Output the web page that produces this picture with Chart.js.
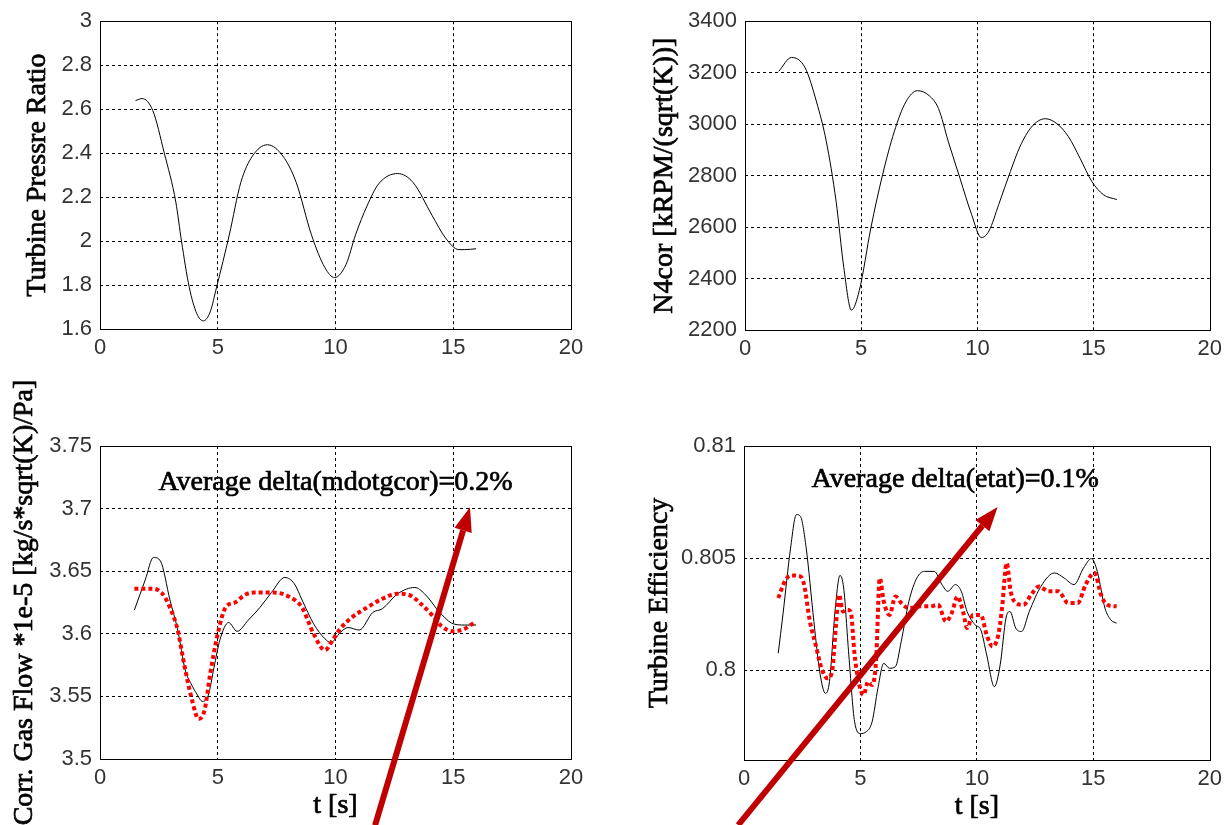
<!DOCTYPE html>
<html><head><meta charset="utf-8">
<script src="https://cdn.jsdelivr.net/npm/chart.js@4/dist/chart.umd.min.js"></script>
<style>
html,body{margin:0;padding:0;background:#fff;}
#wrap{position:relative;width:1228px;height:825px;overflow:hidden;background:#fff;}
canvas{position:absolute;left:0;top:0;}
</style></head><body>
<div id="wrap">
<canvas id="c1" width="1228" height="825"></canvas>
<canvas id="c2" width="1228" height="825"></canvas>
<canvas id="c3" width="1228" height="825"></canvas>
<canvas id="c4" width="1228" height="825"></canvas>
</div>
<script>
// ---- tick labels ----
const xTicks = [0, 5, 10, 15, 20];
const prTicks = [1.6, 1.8, 2, 2.2, 2.4, 2.6, 2.8, 3];
const nTicks = [2200, 2400, 2600, 2800, 3000, 3200, 3400];
const flowTicks = [3.5, 3.55, 3.6, 3.65, 3.7, 3.75];
const effTicks = [0.8, 0.805, 0.81];

// ---- Turbine pressure ratio ----
const prTime = [1.51,1.79,2.24,2.73,3.22,3.46,3.79,4.11,4.39,4.68,4.95,5.49,5.98,6.47,7.11,7.77,8.33,8.98,9.55,9.96,10.45,10.85,11.34,11.83,12.64,13.29,14.1,14.67,15.24,15.48,15.97];
const prValue = [2.639,2.648,2.594,2.40,2.177,2.0,1.79,1.67,1.637,1.678,1.79,2.028,2.267,2.386,2.438,2.386,2.267,2.028,1.879,1.834,1.894,2.028,2.16,2.26,2.307,2.267,2.117,2.014,1.961,1.961,1.965];

// ---- N4cor ----
const nTime = [1.45,2.0,2.58,3.08,3.5,3.92,4.25,4.58,4.92,5.42,5.92,6.42,6.92,7.42,7.92,8.33,8.75,9.25,9.75,10.17,10.5,10.92,11.42,11.83,12.33,12.92,13.42,13.92,14.42,14.92,15.42,16.0];
const nValue = [3205,3259,3220,3086,2932,2700,2444,2277,2354,2598,2803,2970,3086,3130,3111,3060,2932,2790,2649,2559,2585,2688,2816,2912,2989,3021,3002,2951,2867,2778,2726,2707];

// ---- Corrected gas flow (model black, measured red) ----
const flowTime = [1.46,1.92,2.27,2.57,2.97,3.3,3.62,3.87,4.11,4.35,4.6,4.84,5.09,5.46,5.82,6.3,6.79,7.28,7.85,8.25,8.58,9.07,9.55,9.8,10.2,10.53,11.01,11.58,11.99,12.64,13.37,13.78,14.43,15.0,15.48,15.97];
const flowModel = [3.619,3.643,3.661,3.658,3.627,3.603,3.571,3.560,3.552,3.546,3.551,3.573,3.595,3.609,3.602,3.611,3.621,3.633,3.645,3.64,3.627,3.608,3.596,3.593,3.601,3.605,3.603,3.617,3.62,3.632,3.637,3.632,3.617,3.608,3.607,3.607];
const flowTimeR = [1.46,2.24,2.65,2.97,3.3,3.54,3.87,4.19,4.44,4.68,5.0,5.33,5.73,6.14,6.55,7.36,8.09,8.58,9.07,9.55,9.88,10.2,10.69,11.34,11.99,12.64,13.13,13.62,14.1,14.51,15.0,15.48,15.89];
const flowMeas = [3.636,3.636,3.632,3.621,3.603,3.579,3.55,3.532,3.539,3.568,3.6,3.621,3.625,3.631,3.633,3.633,3.629,3.621,3.6,3.587,3.595,3.604,3.613,3.621,3.628,3.632,3.631,3.624,3.615,3.606,3.602,3.604,3.609];

// ---- Turbine efficiency (model black, measured red) ----
const effTime = [1.47,1.67,2.0,2.25,2.42,2.67,3.0,3.25,3.5,3.67,3.92,4.12,4.28,4.5,4.75,5.0,5.25,5.5,5.75,6.0,6.25,6.5,6.75,7.08,7.42,7.75,8.17,8.5,8.75,9.08,9.33,9.58,9.92,10.17,10.42,10.75,11.0,11.25,11.42,11.67,11.92,12.25,12.75,13.33,13.75,14.17,14.58,14.92,15.17,15.5,15.75,16.0];
const effModel = [0.80076,0.80247,0.80545,0.80694,0.80687,0.80545,0.80218,0.79994,0.79897,0.7995,0.80277,0.80423,0.80367,0.80069,0.7977,0.79718,0.79726,0.7977,0.7992,0.80031,0.80009,0.80016,0.80128,0.80307,0.80411,0.80441,0.80441,0.80382,0.80352,0.80382,0.80352,0.80262,0.80203,0.8018,0.80069,0.79927,0.80024,0.80233,0.80262,0.80188,0.80173,0.80262,0.80374,0.80434,0.80411,0.80382,0.80456,0.80498,0.80441,0.80277,0.80225,0.8021];
const effTimeR = [1.47,1.75,2.0,2.42,2.58,2.83,3.08,3.33,3.58,3.78,3.95,4.08,4.25,4.42,4.58,4.75,4.92,5.13,5.33,5.5,5.67,5.83,6.0,6.25,6.5,6.75,7.08,7.58,8.0,8.33,8.67,8.92,9.17,9.42,9.58,9.83,10.17,10.42,10.67,10.92,11.08,11.28,11.45,11.67,12.0,12.33,12.67,13.08,13.5,13.92,14.33,14.67,15.05,15.33,15.58,16.0];
const effMeas = [0.80322,0.80396,0.80423,0.80419,0.80382,0.80218,0.80113,0.80009,0.79964,0.79994,0.80203,0.80337,0.80262,0.8027,0.80262,0.80069,0.79949,0.7989,0.79949,0.79934,0.80039,0.80411,0.80307,0.80247,0.80329,0.803,0.80277,0.80285,0.80285,0.80292,0.80218,0.80255,0.80329,0.80255,0.80188,0.80247,0.80247,0.80158,0.80106,0.80158,0.80277,0.80478,0.80352,0.803,0.80292,0.80337,0.80374,0.80352,0.80352,0.803,0.803,0.80382,0.80434,0.80337,0.80292,0.80285];

const TICK_FONT = {family: '"Liberation Sans", Arial, sans-serif', size: 22};
const SERIF = '28px "Liberation Serif", "Times New Roman", serif';

function serifText(ctx, text, x, y, rot) {
  ctx.save();
  ctx.translate(x, y);
  if (rot) ctx.rotate(rot);
  ctx.font = SERIF;
  ctx.fillStyle = '#000';
  ctx.strokeStyle = '#000';
  ctx.lineWidth = 0.7;
  ctx.setLineDash([]);
  ctx.textAlign = 'center';
  ctx.textBaseline = 'middle';
  ctx.fillText(text, 0, 0);
  ctx.strokeText(text, 0, 0);
  ctx.restore();
}

function decorations(o) {
  return {
    id: 'decor',
    afterDraw(chart) {
      const ctx = chart.ctx, a = chart.chartArea;
      ctx.save();
      ctx.strokeStyle = '#000';
      ctx.lineWidth = 1;
      ctx.setLineDash([]);
      ctx.strokeRect(Math.round(a.left) + 0.5, Math.round(a.top) + 0.5, Math.round(a.right - a.left), Math.round(a.bottom - a.top));
      ctx.restore();
      // axis titles
      serifText(ctx, o.yTitle, o.yTitleX, (a.top + a.bottom) / 2, -Math.PI / 2);
      if (o.xTitle) serifText(ctx, o.xTitle, (a.left + a.right) / 2, a.bottom + 47, 0);
      const note = o.note;
      if (note) {
        const xs = chart.scales.x, ys = chart.scales.y;
        serifText(ctx, note.text, xs.getPixelForValue(note.x), ys.getPixelForValue(note.y), 0);
        const x1 = xs.getPixelForValue(note.arrow[0]), y1 = ys.getPixelForValue(note.arrow[1]);
        const x2 = xs.getPixelForValue(note.arrow[2]), y2 = ys.getPixelForValue(note.arrow[3]);
        const ang = Math.atan2(y2 - y1, x2 - x1);
        const headLen = 24, headHalf = 9;
        const bx = x2 - headLen * Math.cos(ang), by = y2 - headLen * Math.sin(ang);
        ctx.save();
        ctx.strokeStyle = '#c00000';
        ctx.fillStyle = '#c00000';
        ctx.lineWidth = 6;
        ctx.beginPath();
        ctx.moveTo(x1, y1);
        ctx.lineTo(bx, by);
        ctx.stroke();
        ctx.beginPath();
        ctx.moveTo(x2, y2);
        ctx.lineTo(bx + headHalf * Math.sin(ang), by - headHalf * Math.cos(ang));
        ctx.lineTo(bx - headHalf * Math.sin(ang), by + headHalf * Math.cos(ang));
        ctx.closePath();
        ctx.fill();
        ctx.restore();
      }
    }
  };
}

function makeChart(id, o) {
  const datasets = o.series.map(s => ({
    data: s.t.map((t, i) => ({x: t, y: s.v[i]})),
    borderColor: s.color,
    borderWidth: s.width,
    borderDash: s.dash || [],
    pointRadius: 0,
    fill: false,
    cubicInterpolationMode: 'monotone'
  }));
  const inner = (lo, hi) => ({
    color: c => (c.tick && (c.tick.value === lo || c.tick.value === hi)) ? 'rgba(0,0,0,0)' : '#000',
    lineWidth: 1, drawTicks: false
  });
  return new Chart(document.getElementById(id), {
    type: 'line',
    data: {datasets},
    options: {
      responsive: false,
      animation: false,
      events: [],
      layout: {padding: o.pad},
      plugins: {legend: {display: false}, tooltip: {enabled: false}, title: {display: false}},
      scales: {
        x: {
          type: 'linear', min: 0, max: 20,
          afterBuildTicks: s => { s.ticks = xTicks.map(v => ({value: v})); },
          afterFit: s => { s.height = o.xh; },
          grid: inner(0, 20),
          border: {display: false, dash: [3, 3]},
          ticks: {color: '#333', font: TICK_FONT, padding: 6, maxRotation: 0, autoSkip: false, callback: v => String(v)},
          title: {display: false}
        },
        y: {
          type: 'linear', min: o.ymin, max: o.ymax,
          afterBuildTicks: s => { s.ticks = o.yTicks.map(v => ({value: v})); },
          afterFit: s => { s.width = o.yw; },
          grid: inner(o.ymin, o.ymax),
          border: {display: false, dash: [3, 3]},
          ticks: {color: '#333', font: TICK_FONT, padding: 8, autoSkip: false, callback: v => String(v)},
          title: {display: false}
        }
      }
    },
    plugins: [decorations(o)]
  });
}

makeChart('c1', {
  pad: {left: 0, top: 17, right: 657, bottom: 446},
  xh: 50, yw: 100, yTitleX: 38,
  ymin: 1.6, ymax: 3, yTicks: prTicks,
  yTitle: 'Turbine Pressre Ratio',
  series: [{t: prTime, v: prValue, color: '#000', width: 1}]
});

makeChart('c2', {
  pad: {left: 614, top: 17, right: 13, bottom: 445},
  xh: 50, yw: 131, yTitleX: 665,
  ymin: 2200, ymax: 3400, yTicks: nTicks,
  yTitle: 'N4cor [kRPM/(sqrt(K))]',
  series: [{t: nTime, v: nValue, color: '#000', width: 1}]
});

makeChart('c3', {
  pad: {left: 0, top: 446, right: 657, bottom: 0},
  xh: 66, yw: 100, yTitleX: 25,
  ymin: 3.5, ymax: 3.75, yTicks: flowTicks,
  yTitle: 'Corr. Gas Flow *1e-5 [kg/s*sqrt(K)/Pa]',
  xTitle: 't [s]',
  series: [
    {t: flowTimeR, v: flowMeas, color: '#ff0000', width: 4, dash: [4, 3]},
    {t: flowTime, v: flowModel, color: '#000', width: 1}
  ],
  note: {text: 'Average delta(mdotgcor)=0.2%', x: 10, y: 3.7204, arrow: [11.68, 3.447, 15.71, 3.701]}
});

makeChart('c4', {
  pad: {left: 614, top: 446, right: 12, bottom: 0},
  xh: 65, yw: 130, yTitleX: 660,
  ymin: 0.796, ymax: 0.81, yTicks: effTicks,
  yTitle: 'Turbine Efficiency',
  xTitle: 't [s]',
  series: [
    {t: effTimeR, v: effMeas, color: '#ff0000', width: 4, dash: [4, 3]},
    {t: effTime, v: effModel, color: '#000', width: 1}
  ],
  note: {text: 'Average delta(etat)=0.1%', x: 9.07, y: 0.80848, arrow: [-0.25, 0.7931, 10.89, 0.80728]}
});
</script>
</body></html>
